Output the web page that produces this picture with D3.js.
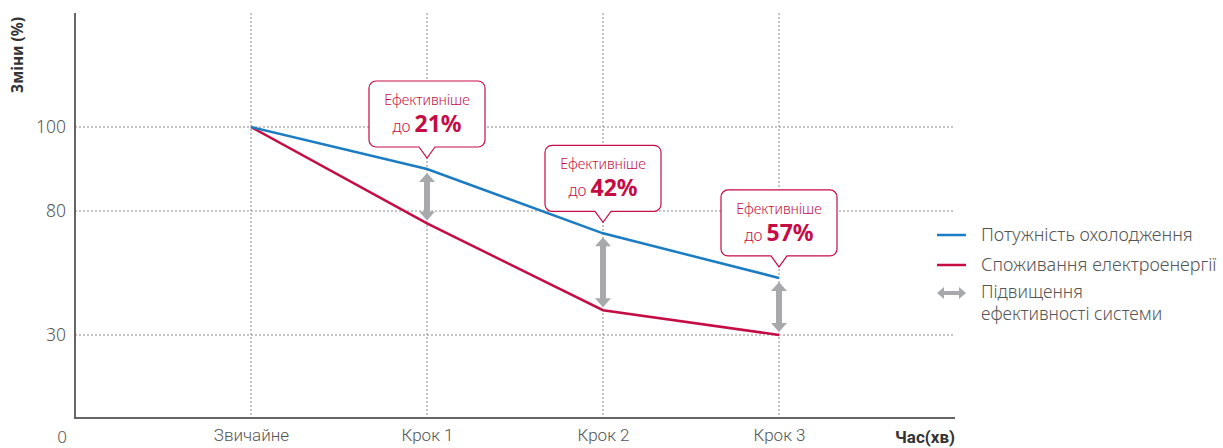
<!DOCTYPE html>
<html><head><meta charset="utf-8">
<script src="https://cdn.jsdelivr.net/npm/d3@7"></script>
<style>body{margin:0;background:#fff}svg{display:block}</style>
</head><body>
<svg id="c" width="1223" height="448"></svg>
<script>
const categories = ["Звичайне", "Крок 1", "Крок 2", "Крок 3"];
const coolingCapacity = [100, 90, 71, 53];
const powerConsumption = [100, 75, 40, 30];
const efficiencyGain = ["21%", "42%", "57%"];
const yTicks = [30, 80, 100];
const seriesNames = ["Потужність охолодження", "Споживання електроенергії"];
const arrowLegend = ["Підвищення", "ефективності системи"];

const BLUE = "#1b7cc3", RED = "#c50d45", GRAY = "#a7a9ac";
const svg = d3.select("#c");
const x = d3.scaleLinear().domain([0, 5]).range([75, 955]);
const y = d3.scaleLinear().domain([0, 30, 80, 100]).range([418, 335, 211, 127]);
const plotTop = 13;

// grid
const g = svg.append("g");
g.selectAll(".hg").data(yTicks).join("line")
  .attr("x1", x(0)).attr("x2", x(5)).attr("y1", d => y(d)).attr("y2", d => y(d))
  .attr("stroke", "#8a8a8a").attr("stroke-width", 1).attr("stroke-dasharray", "2,2");
g.selectAll(".vg").data(categories).join("line")
  .attr("x1", (d, i) => x(i + 1)).attr("x2", (d, i) => x(i + 1)).attr("y1", plotTop).attr("y2", y(0))
  .attr("stroke", "#8a8a8a").attr("stroke-width", 1).attr("stroke-dasharray", "2,2");

// axes
const yAxis = svg.append("g").attr("transform", `translate(${x(0)},0)`)
  .call(d3.axisLeft(y).tickValues(yTicks).tickSize(0).tickPadding(9).tickFormat(d3.format("d")));
yAxis.select(".domain").remove();
yAxis.selectAll("text").attr("font-family", "Noto Sans").attr("font-size", 17.5).attr("fill", "#555").attr("font-weight", 300);
svg.append("line").attr("x1", x(0)).attr("x2", x(0)).attr("y1", plotTop).attr("y2", y(0) + 1)
  .attr("stroke", "#666").attr("stroke-width", 2);
svg.append("line").attr("x1", x(0) - 1).attr("x2", x(5)).attr("y1", y(0)).attr("y2", y(0))
  .attr("stroke", "#666").attr("stroke-width", 2);

const xAxis = svg.append("g").attr("transform", `translate(0,${y(0)})`)
  .call(d3.axisBottom(x).tickValues([1, 2, 3, 4]).tickSize(0).tickPadding(11).tickFormat((d) => categories[d - 1]));
xAxis.select(".domain").remove();
xAxis.selectAll("text").attr("font-family", "Roboto").attr("font-size", 17).attr("fill", "#555").attr("font-weight", 300);
svg.append("text").attr("x", 62).attr("y", 443).attr("text-anchor", "middle")
  .attr("font-family", "Noto Sans").attr("font-size", 17).attr("fill", "#555").attr("font-weight", 300).text("0");
svg.append("text").attr("x", x(5)).attr("y", 443).attr("text-anchor", "end")
  .attr("font-family", "Roboto").attr("font-size", 17).attr("font-weight", 700).attr("fill", "#333").text("Час(хв)");
svg.append("text").attr("transform", "translate(23,55) rotate(-90)").attr("text-anchor", "middle")
  .attr("font-family", "Noto Sans").attr("font-size", 15.5).attr("font-weight", 700).attr("fill", "#333").text("Зміни (%)");

// lines
const line = d3.line().x((d, i) => x(i + 1)).y(d => y(d));
svg.append("path").datum(powerConsumption).attr("d", line).attr("fill", "none").attr("stroke", RED).attr("stroke-width", 2.5);
svg.append("path").datum(coolingCapacity).attr("d", line).attr("fill", "none").attr("stroke", BLUE).attr("stroke-width", 2.5);

// double arrows
function dblArrow(sel, cx, y1, y2, hw, hh, sw) {
  const p = d3.path();
  p.moveTo(cx, y1); p.lineTo(cx + hw, y1 + hh); p.lineTo(cx + sw, y1 + hh);
  p.lineTo(cx + sw, y2 - hh); p.lineTo(cx + hw, y2 - hh); p.lineTo(cx, y2);
  p.lineTo(cx - hw, y2 - hh); p.lineTo(cx - sw, y2 - hh); p.lineTo(cx - sw, y1 + hh);
  p.lineTo(cx - hw, y1 + hh); p.closePath();
  sel.append("path").attr("d", p.toString()).attr("fill", GRAY);
}
for (let i = 1; i < categories.length; i++) {
  dblArrow(svg, x(i + 1), y(coolingCapacity[i]) + 4, y(powerConsumption[i]) - 3, 8, 9, 3);
}

// callouts
for (let i = 1; i < categories.length; i++) {
  const cx = x(i + 1), tipY = y(coolingCapacity[i]) - 11;
  const w = 116, h = 66, r = 7, ph = 11, pw = 8;
  const bx = cx - w / 2, by = tipY - ph - h;
  const p = d3.path();
  p.moveTo(bx + r, by); p.lineTo(bx + w - r, by); p.arcTo(bx + w, by, bx + w, by + r, r);
  p.lineTo(bx + w, by + h - r); p.arcTo(bx + w, by + h, bx + w - r, by + h, r);
  p.lineTo(cx + pw, by + h); p.lineTo(cx, tipY); p.lineTo(cx - pw, by + h);
  p.lineTo(bx + r, by + h); p.arcTo(bx, by + h, bx, by + h - r, r);
  p.lineTo(bx, by + r); p.arcTo(bx, by, bx + r, by, r); p.closePath();
  svg.append("path").attr("d", p.toString()).attr("fill", "#fff").attr("stroke", RED).attr("stroke-width", 1.2);
  svg.append("text").attr("x", cx).attr("y", by + 24).attr("text-anchor", "middle")
    .attr("font-family", "Noto Sans").attr("font-size", 14).attr("font-weight", 300).attr("fill", RED).text("Ефективніше");
  const t = svg.append("text").attr("x", cx).attr("y", by + 51).attr("text-anchor", "middle").attr("fill", RED).attr("font-family", "Noto Sans");
  t.append("tspan").attr("font-size", 15.5).attr("font-weight", 300).text("до ");
  t.append("tspan").attr("font-size", 23).attr("font-weight", 700).text(efficiencyGain[i - 1]);
}

// legend
const lg = svg.append("g");
const lx = 937, ltx = 981;
[BLUE, RED].forEach((c, i) => {
  const yy = 235 + i * 30;
  lg.append("line").attr("x1", lx).attr("x2", lx + 29).attr("y1", yy).attr("y2", yy).attr("stroke", c).attr("stroke-width", 2.5);
  lg.append("text").attr("x", ltx).attr("y", yy + 6).attr("font-family", "Noto Sans").attr("font-size", 18)
    .attr("font-weight", 300).attr("fill", "#555").text(seriesNames[i]);
});
{
  const yy = 293, x1 = lx, x2 = lx + 29, hh = 6, hw = 7, sw = 2;
  const p = d3.path();
  p.moveTo(x1, yy); p.lineTo(x1 + hw, yy - hh); p.lineTo(x1 + hw, yy - sw); p.lineTo(x2 - hw, yy - sw);
  p.lineTo(x2 - hw, yy - hh); p.lineTo(x2, yy); p.lineTo(x2 - hw, yy + hh); p.lineTo(x2 - hw, yy + sw);
  p.lineTo(x1 + hw, yy + sw); p.lineTo(x1 + hw, yy + hh); p.closePath();
  lg.append("path").attr("d", p.toString()).attr("fill", GRAY);
  arrowLegend.forEach((s, i) => lg.append("text").attr("x", ltx).attr("y", 298 + i * 22)
    .attr("font-family", "Noto Sans").attr("font-size", 17.5).attr("font-weight", 300).attr("fill", "#555").text(s));
}
</script>
</body></html>
